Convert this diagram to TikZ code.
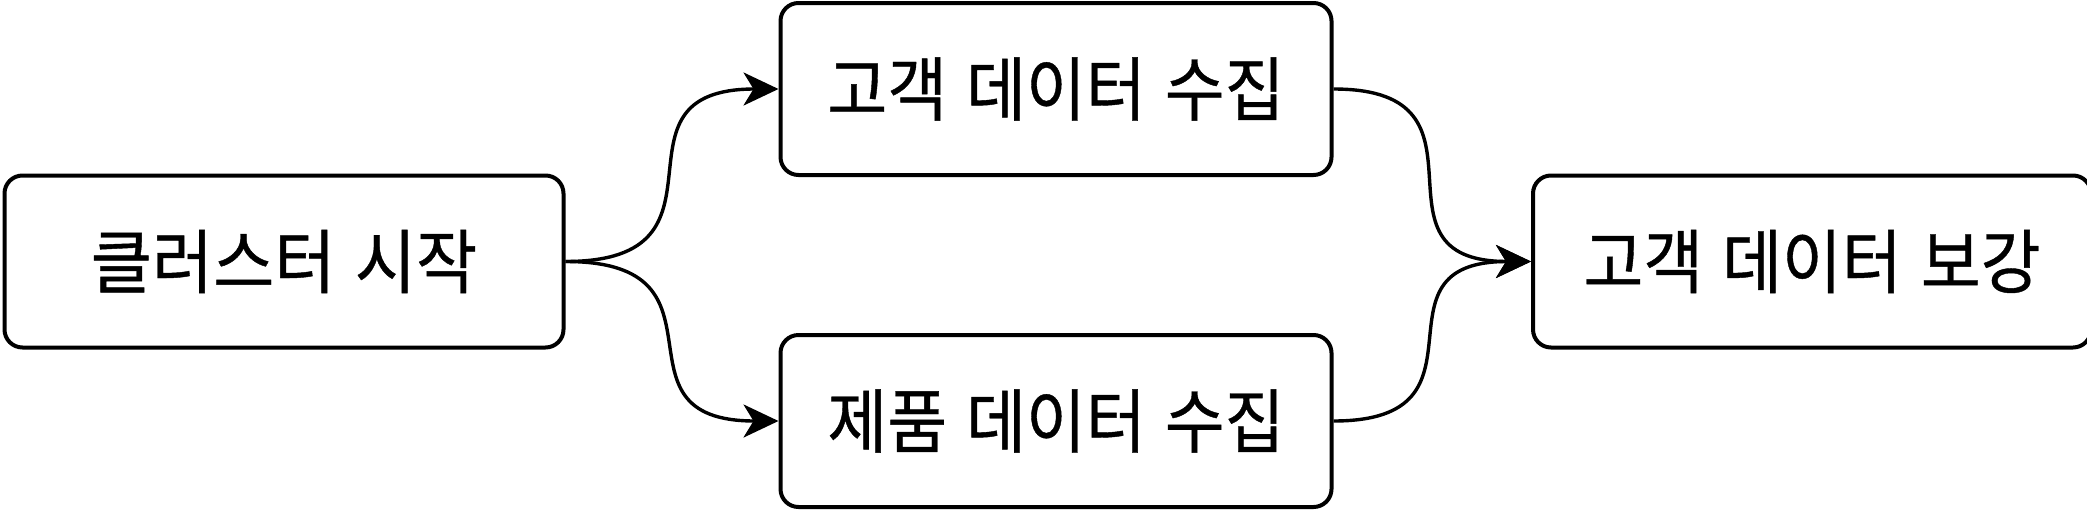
\documentclass[tikz,border=0pt]{standalone}
\usepackage{fontspec}
\newfontfamily\krfont[WordSpace=1.3,FakeBold=0.6]{Noto Sans CJK KR}
\usetikzlibrary{arrows.meta}
\begin{document}
\begin{tikzpicture}[x=1pt,y=-1pt,
  box/.style={draw=black, fill=white, line width=4pt, rounded corners=18pt,
    minimum height=172pt, inner sep=0pt,
    font=\krfont\fontsize{70}{80}\selectfont},
  flow/.style={line width=3.4pt, -{Stealth[length=35pt,width=33pt,inset=10pt]},
    out=0, in=180, looseness=1.7}]
\useasboundingbox (0,0) rectangle (2087,512);
\fill[white] (0,0) rectangle (2087,512);
\node[box, minimum width=559pt] (start) at (284,261.5) {\scalebox{0.95}[1]{클러스터 시작}};
\node[box, minimum width=551pt] (cust) at (1056,89) {\scalebox{0.93}[1]{고객 데이터 수집}};
\node[box, minimum width=551pt] (prod) at (1056,421) {\scalebox{0.93}[1]{제품 데이터 수집}};
\node[box, minimum width=558pt] (enrich) at (1812,261.5) {\scalebox{0.93}[1]{고객 데이터 보강}};
\draw[flow] (start.east) to (cust.west);
\draw[flow] (start.east) to (prod.west);
\draw[flow] (cust.east) to (enrich.west);
\draw[flow] (prod.east) to (enrich.west);
\end{tikzpicture}
\end{document}
